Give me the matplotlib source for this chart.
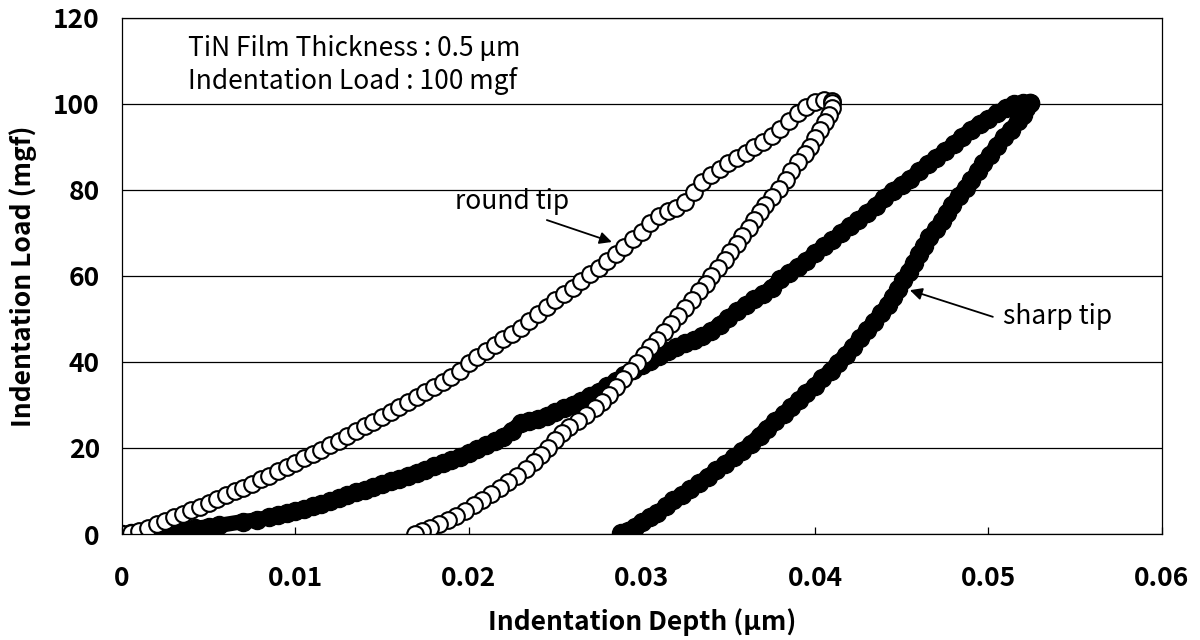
import numpy as np
import matplotlib.pyplot as plt

plt.rcParams['font.family'] = ['Noto Sans CJK JP', 'DejaVu Sans']

# depth in nm (converted to um when plotted), load in mgf
round_load_nm = [0.0, 0.5, 1.0, 1.5, 2.0, 2.5, 3.0, 3.5, 4.0, 4.5, 5.0, 5.5, 6.0, 6.5, 7.0, 7.5,
                 8.0, 8.5, 9.0, 9.5, 10.0, 10.5, 11.0, 11.5, 12.0, 12.5, 13.0, 13.5, 14.0, 14.5,
                 15.0, 15.5, 16.0, 16.5, 17.0, 17.5, 18.0, 18.5, 19.0, 19.5, 20.0, 20.5, 21.0,
                 21.5, 22.0, 22.5, 23.0, 23.5, 24.0, 24.5, 25.0, 25.5, 26.0, 26.5, 27.0, 27.5,
                 28.0, 28.5, 29.0, 29.5, 30.0, 30.5, 31.0, 31.5, 32.0, 32.5, 33.0, 33.5, 34.0,
                 34.5, 35.0, 35.5, 36.0, 36.5, 37.0, 37.5, 38.0, 38.5, 39.0, 39.5, 40.0, 40.5, 41.0]
round_load_mgf = [0.0, 0.3, 0.8, 1.5, 2.3, 3.1, 3.9, 4.7, 5.5, 6.3, 7.2, 8.1, 9.0, 9.9, 10.8, 11.7,
                  12.7, 13.6, 14.6, 15.6, 16.6, 17.6, 18.6, 19.6, 20.7, 21.7, 22.8, 23.9, 25.0, 26.1,
                  27.2, 28.3, 29.5, 30.6, 31.8, 33.0, 34.2, 35.4, 36.6, 37.8, 39.8, 41.2, 42.6,
                  44.0, 45.3, 46.6, 48.0, 49.6, 51.2, 52.9, 54.5, 55.8, 57.2, 58.9, 60.4, 61.8,
                  63.5, 65.0, 66.8, 68.5, 70.3, 72.3, 73.9, 75.0, 75.8, 77.2, 79.6, 81.8, 83.5,
                  84.8, 86.2, 87.4, 88.7, 90.0, 91.2, 92.6, 94.2, 96.0, 97.9, 99.4, 100.4, 100.8, 100.6]

round_unload_nm = [41.0, 41.0, 40.8, 40.6, 40.3, 40.0, 39.7, 39.4, 39.0, 38.6, 38.3, 37.9, 37.5,
                   37.1, 36.8, 36.5, 36.2, 35.8, 35.5, 35.1, 34.8, 34.4, 34.0, 33.7, 33.3, 32.9,
                   32.5, 32.1, 31.7, 31.3, 30.9, 30.5, 30.1, 29.7, 29.3, 28.9, 28.5, 28.1, 27.7,
                   27.3, 26.8, 26.3, 25.8, 25.4, 25.0, 24.6, 24.2, 23.8, 23.3, 22.8, 22.3, 21.8,
                   21.3, 20.8, 20.3, 19.8, 19.3, 18.8, 18.3, 17.8, 17.3, 16.9]
round_unload_mgf = [100.3, 99.0, 97.5, 95.8, 94.0, 92.0, 90.0, 88.3, 86.4, 84.3, 82.2, 80.2, 78.3,
                    76.5, 74.8, 73.0, 71.2, 69.2, 67.4, 65.5, 63.6, 61.8, 59.9, 58.2, 56.4, 54.5,
                    52.6, 50.6, 48.8, 47.0, 45.2, 43.4, 41.6, 39.8, 38.0, 36.0, 34.2, 32.4, 30.8,
                    29.3, 27.7, 26.2, 24.8, 23.4, 21.8, 20.0, 18.3, 16.7, 15.1, 13.6, 12.1, 10.7,
                    9.3, 8.0, 6.7, 5.4, 4.2, 3.2, 2.3, 1.4, 0.6, 0.1]

sharp_load_nm = [0.0, 0.5, 1.0, 2.0, 2.8, 3.5, 4.2, 5.0, 5.6, 7.0, 7.8, 8.5, 9.0, 9.5, 10.0, 10.5,
                 11.0, 11.5, 12.0, 12.5, 13.0, 13.5, 14.0, 14.5, 15.0, 15.5, 16.0, 16.5, 17.0,
                 17.5, 18.0, 18.5, 19.0, 19.5, 20.0, 20.5, 21.0, 21.5, 22.0, 22.5, 23.0, 23.5,
                 24.0, 24.5, 25.0, 25.5, 26.0, 26.5, 27.0, 27.5, 28.0, 28.5, 29.0, 29.5, 30.0,
                 30.5, 31.0, 31.5, 32.0, 32.5, 33.0, 33.5, 34.0, 34.5, 35.0, 35.5, 36.0, 36.5,
                 37.0, 37.5, 38.0, 38.5, 39.0, 39.5, 40.0, 40.5, 41.0, 41.5, 42.0, 42.5, 43.0,
                 43.5, 44.0, 44.5, 45.0, 45.5, 46.0, 46.5, 47.0, 47.5, 48.0, 48.5, 49.0, 49.5,
                 50.0, 50.5, 51.0, 51.5, 52.0, 52.4]
sharp_load_mgf = [0.0, 0.2, 0.4, 0.5, 0.6, 0.9, 1.3, 1.7, 2.0, 2.9, 3.3, 3.9, 4.4, 4.8, 5.3, 5.8,
                  6.4, 7.0, 7.6, 8.3, 9.0, 9.7, 10.3, 11.0, 11.7, 12.3, 12.9, 13.6, 14.3,
                  15.0, 15.7, 16.4, 17.2, 18.0, 18.9, 19.7, 20.6, 21.6, 22.6, 24.0, 25.8, 26.3,
                  26.8, 27.5, 28.4, 29.2, 30.1, 31.0, 32.0, 33.1, 34.3, 35.6, 36.9, 38.1, 39.2,
                  40.2, 41.3, 42.5, 43.5, 44.4, 45.2, 46.0, 47.2, 48.7, 50.3, 51.8, 53.3, 54.6,
                  55.8, 57.3, 59.2, 60.8, 62.0, 63.5, 65.3, 66.9, 68.3, 70.0, 71.6, 73.0, 74.6,
                  76.3, 78.2, 79.8, 81.2, 82.6, 84.3, 86.0, 87.5, 89.0, 90.6, 92.4, 94.0, 95.4,
                  96.6, 97.8, 99.0, 99.9, 100.2, 100.3]

sharp_unload_nm = [52.4, 52.2, 52.0, 51.7, 51.3, 50.9, 50.5, 50.1, 49.7, 49.4, 49.0, 48.7, 48.3,
                   47.9, 47.6, 47.3, 47.0, 46.6, 46.3, 46.0, 45.7, 45.4, 45.1, 44.8, 44.5, 44.2,
                   43.8, 43.4, 43.0, 42.6, 42.2, 41.8, 41.3, 40.9, 40.4, 40.0, 39.5, 39.1, 38.6,
                   38.2, 37.7, 37.2, 36.8, 36.3, 35.8, 35.3, 34.8, 34.3, 33.8, 33.3, 32.8, 32.3,
                   31.8, 31.4, 30.9, 30.5, 30.0, 29.6, 29.2, 28.8]
sharp_unload_mgf = [100.3, 99.0, 97.5, 96.0, 94.0, 92.2, 90.3, 88.2, 86.2, 84.3, 82.3, 80.5, 78.6,
                    76.5, 74.6, 72.8, 71.0, 69.0, 67.0, 65.0, 63.0, 61.0, 59.0, 57.0, 55.2, 53.3,
                    51.3, 49.3, 47.4, 45.5, 43.6, 41.7, 39.8, 38.0, 36.2, 34.5, 32.8, 31.2, 29.5,
                    27.9, 26.2, 24.5, 22.9, 21.0, 19.4, 17.8, 16.3, 14.8, 13.3, 11.8, 10.4, 9.1,
                    7.8, 6.4, 5.0, 3.9, 2.7, 1.6, 0.8, 0.2]

x_ticks = [0, 0.01, 0.02, 0.03, 0.04, 0.05, 0.06]
x_tick_labels = ['0', '0.01', '0.02', '0.03', '0.04', '0.05', '0.06']
y_ticks = [0, 20, 40, 60, 80, 100, 120]

fig, ax = plt.subplots(figsize=(12, 6.4), dpi=100)
fig.subplots_adjust(left=0.1017, right=0.968, bottom=0.1656, top=0.972)

#sharp tip first so the open circles sit on top
for d, l in [(sharp_load_nm, sharp_load_mgf), (sharp_unload_nm, sharp_unload_mgf)]:
    ax.plot(np.array(d) / 1000, l, color='black', lw=11, solid_capstyle='round',
            solid_joinstyle='round', marker='o', ms=13, mfc='black', mec='black', mew=1.0)
for d, l in [(round_load_nm, round_load_mgf), (round_unload_nm, round_unload_mgf)]:
    ax.plot(np.array(d) / 1000, l, linestyle='none', marker='o', ms=12,
            mfc='white', mec='black', mew=1.5)

ax.set_xlim(0, 0.06)
ax.set_ylim(0, 120)
ax.set_xticks(x_ticks)
ax.set_xticklabels(x_tick_labels)
ax.set_yticks(y_ticks)
ax.yaxis.grid(True, color='black', linewidth=0.9)
ax.set_axisbelow(True)
ax.tick_params(axis='x', direction='in', length=5, width=0.9, pad=22)
ax.tick_params(axis='y', direction='in', length=0, pad=16)
for lab in ax.get_xticklabels() + ax.get_yticklabels():
    lab.set_fontsize(19)
    lab.set_fontweight('bold')
for sp in ax.spines.values():
    sp.set_linewidth(0.9)

ax.set_xlabel('Indentation Depth (\u03bcm)', fontsize=19, fontweight='bold', labelpad=12)
ax.set_ylabel('Indentation Load (mgf)', fontsize=19, fontweight='bold', labelpad=12)

ax.text(0.0038, 113, 'TiN Film Thickness : 0.5 \u03bcm', fontsize=19, va='center', ha='left')
ax.text(0.0038, 105.4, 'Indentation Load : 100 mgf', fontsize=19, va='center', ha='left')

ax.text(0.0225, 77.2, 'round tip', fontsize=19, va='center', ha='center')
ax.annotate('', xy=(0.02827, 67.9), xytext=(0.02452, 73.0),
            arrowprops=dict(arrowstyle='-|>', color='black', lw=1.3,
                            shrinkA=0, shrinkB=0, mutation_scale=18))
ax.text(0.0540, 50.5, 'sharp tip', fontsize=19, va='center', ha='center')
ax.annotate('', xy=(0.04547, 56.7), xytext=(0.05026, 50.5),
            arrowprops=dict(arrowstyle='-|>', color='black', lw=1.3,
                            shrinkA=0, shrinkB=0, mutation_scale=18))

fig.savefig('out.png', dpi=100)
